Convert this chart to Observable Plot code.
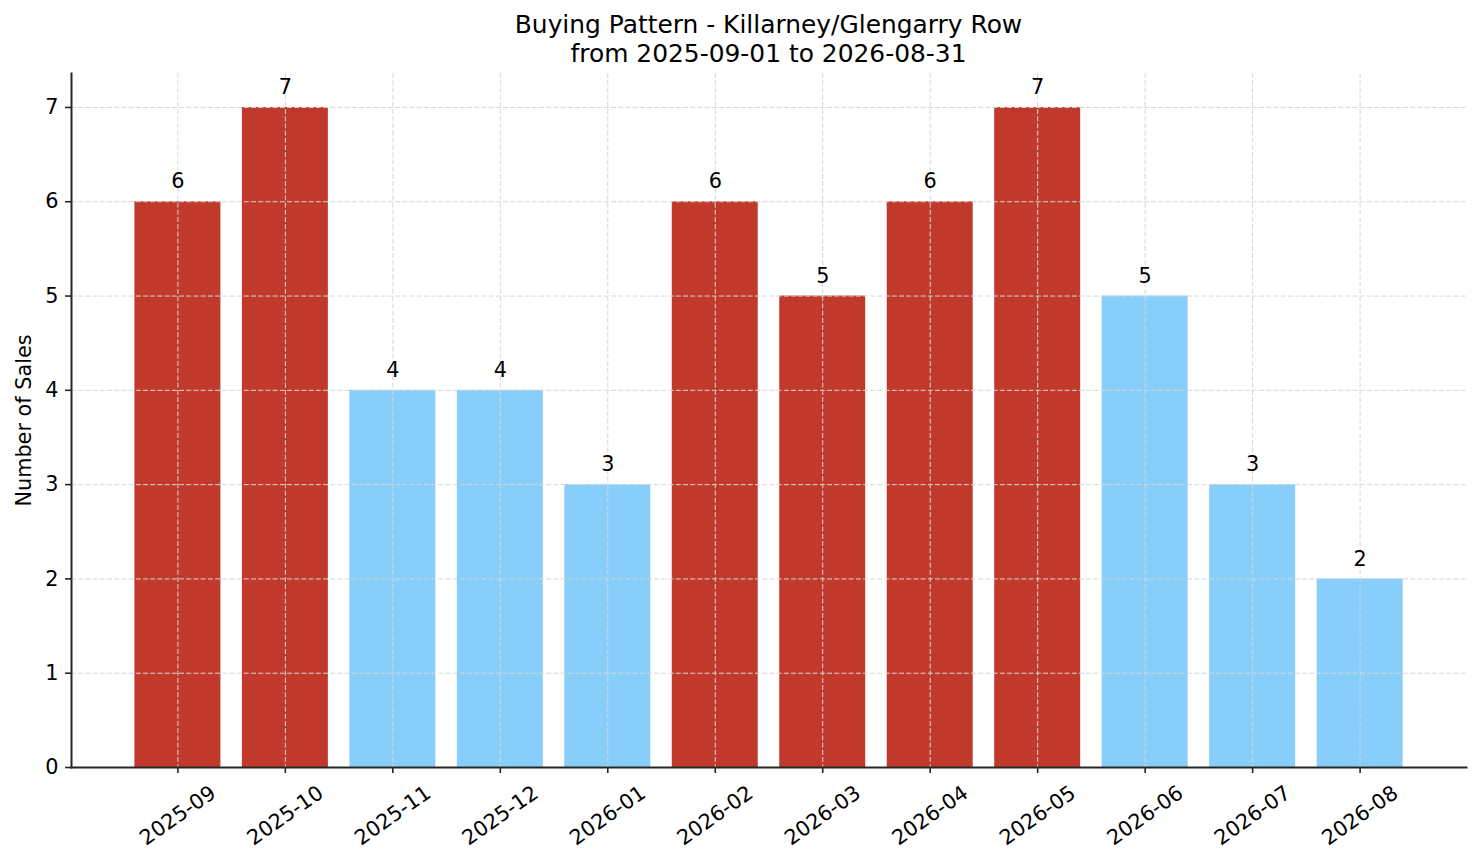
<!DOCTYPE html>
<html>
<head>
<meta charset="utf-8">
<script src="https://cdn.jsdelivr.net/npm/d3@7"></script>
<script src="https://cdn.jsdelivr.net/npm/@observablehq/plot@0.6"></script>
<style>
  html, body { margin: 0; padding: 0; background: #fff; }
  body { font-family: "DejaVu Sans", sans-serif; width: 1481px; }
  #title {
    height: 70px; box-sizing: border-box; padding: 10px 15px 0 71px;
    text-align: center; font-size: 24.9px; line-height: 29px; color: #000;
  }
  #chart svg { display: block; }
</style>
</head>
<body>
<div id="title">Buying Pattern - Killarney/Glengarry Row<br>from 2025-09-01 to 2026-08-31</div>
<div id="chart"></div>
<script>
const months = ["2025-09","2025-10","2025-11","2025-12","2026-01","2026-02","2026-03","2026-04","2026-05","2026-06","2026-07","2026-08"];
const sales = [6, 7, 4, 4, 3, 6, 5, 6, 7, 5, 3, 2];
const groups = ["high","high","low","low","low","high","high","high","high","low","low","low"];
const groupNames = ["high", "low"];
const groupColors = ["#c0392b", "#87cefa"];
const yTicks = [0, 1, 2, 3, 4, 5, 6, 7];
const yLabel = "Number of Sales";

const data = months.map((m, i) => ({month: m, value: sales[i], group: groups[i]}));

const FS = 20.8;
const gridStyle = {stroke: "#d6d6d6", strokeOpacity: 1, strokeWidth: 1, strokeDasharray: "5,2.2"};

const chart = Plot.plot({
  width: 1481,
  height: 793,
  marginLeft: 71,
  marginRight: 15,
  marginTop: 3,
  marginBottom: 96,
  style: {fontFamily: "DejaVu Sans", fontSize: FS + "px", color: "#000", background: "#fff"},
  x: {type: "band", domain: months, paddingInner: 0.2, paddingOuter: 0.59, round: false, axis: null},
  y: {domain: [0, 7.36], axis: null},
  color: {domain: groupNames, range: groupColors},
  marks: [
    Plot.barY(data, {x: "month", y: "value", fill: "group"}),
    Plot.gridX(months, {...gridStyle}),
    Plot.gridY(yTicks, {...gridStyle}),
    Plot.text(data, {x: "month", y: "value", text: d => String(d.value), dy: -20, lineAnchor: "middle", fontSize: FS, fill: "#000"}),
    Plot.axisY(yTicks, {tickSize: 6, tickPadding: 7, tickFormat: d => String(d), fontSize: FS, stroke: "#262626", strokeWidth: 1.6, fill: "#000", label: null}),
    Plot.axisX(months, {tickSize: 6, tickFormat: () => "", stroke: "#262626", strokeWidth: 1.6, label: null}),
    Plot.text(months, {x: d => d, frameAnchor: "bottom", dy: 48, rotate: -35, textAnchor: "middle", lineAnchor: "middle", fontSize: FS, fill: "#000"}),
    Plot.text([yLabel], {frameAnchor: "left", dx: -47.5, rotate: -90, textAnchor: "middle", lineAnchor: "middle", fontSize: FS, fill: "#000"}),
    Plot.frame({anchor: "left", stroke: "#262626", strokeWidth: 2}),
    Plot.frame({anchor: "bottom", stroke: "#262626", strokeWidth: 2})
  ]
});
document.getElementById("chart").appendChild(chart);
</script>
</body>
</html>
